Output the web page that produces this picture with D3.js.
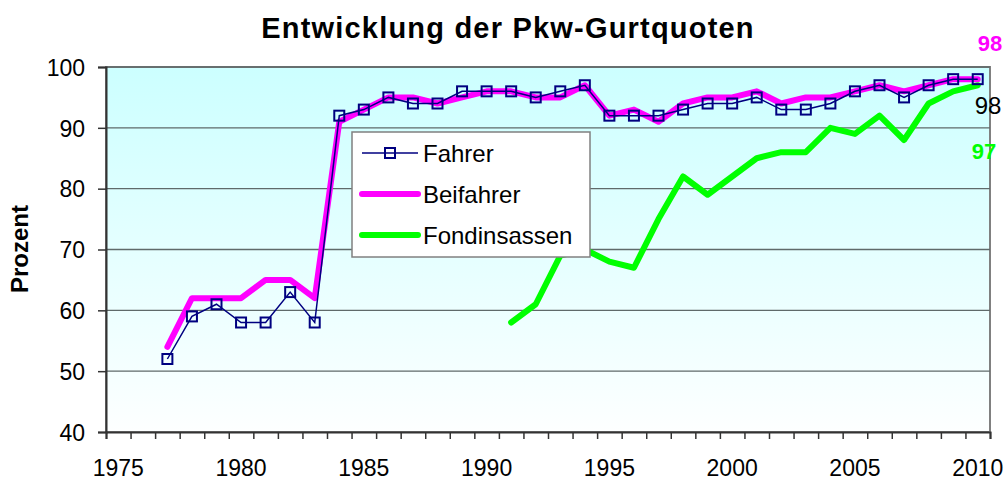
<!DOCTYPE html>
<html>
<head>
<meta charset="utf-8">
<script src="https://cdn.jsdelivr.net/npm/d3@7"></script>
<style>
  body { margin: 0; background: #fff; }
  text { font-family: "Liberation Sans", Arial, sans-serif; }
</style>
</head>
<body>
<svg id="chart" width="1008" height="480"></svg>
<script>
// data
var years = d3.range(1977, 2011);
var fahrer = [52, 59, 61, 58, 58, 63, 58, 92, 93, 95, 94, 94, 96, 96, 96, 95, 96, 97,
              92, 92, 92, 93, 94, 94, 95, 93, 93, 94, 96, 97, 95, 97, 98, 98];
var beifahrer = [54, 62, 62, 62, 65, 65, 62, 91, 93, 95, 95, 94, 95, 96, 96, 95, 95, 97,
                 92, 93, 91, 94, 95, 95, 96, 94, 95, 95, 96, 97, 96, 97, 98, 98];
var fondYears = d3.range(1991, 2011);
var fond = [58, 61, 69, 70, 68, 67, 75, 82, 79, 82, 85, 86, 86, 90, 89, 92, 88, 94, 96, 97];
var yTicks = [40, 50, 60, 70, 80, 90, 100];
var xLabels = [1975, 1980, 1985, 1990, 1995, 2000, 2005, 2010];

var svg = d3.select("#chart");
var margin = {left: 106, right: 990, top: 67, bottom: 432};

var x = d3.scaleLinear().domain([1974.5, 2010.5]).range([margin.left, margin.right]);
var y = d3.scaleLinear().domain([40, 100]).range([margin.bottom, margin.top]);

// plot background gradient
var grad = svg.append("defs").append("linearGradient")
    .attr("id", "bg").attr("x1", 0).attr("y1", 0).attr("x2", 0).attr("y2", 1);
grad.append("stop").attr("offset", "0%").attr("stop-color", "#ccffff");
grad.append("stop").attr("offset", "100%").attr("stop-color", "#fdffff");

svg.append("rect")
    .attr("x", margin.left).attr("y", margin.top)
    .attr("width", margin.right - margin.left).attr("height", margin.bottom - margin.top)
    .attr("fill", "url(#bg)")
    .attr("stroke", "#808080").attr("stroke-width", 2);

// gridlines
svg.append("g").selectAll("line")
    .data(yTicks.slice(1))
    .enter().append("line")
    .attr("x1", margin.left).attr("x2", margin.right)
    .attr("y1", function(d){return y(d)}).attr("y2", function(d){return y(d)})
    .attr("stroke", "#5f6a6a").attr("stroke-width", 1.3);

// y axis
var yAxis = svg.append("g")
    .attr("transform", "translate(" + margin.left + ",0)")
    .call(d3.axisLeft(y).tickValues(yTicks).tickSize(8).tickPadding(13));
yAxis.select(".domain").attr("stroke", "#333").attr("stroke-width", 2);
yAxis.selectAll(".tick line").attr("stroke", "#333").attr("stroke-width", 1.5);
yAxis.selectAll("text").attr("font-size", 23).attr("fill", "#000").attr("dy", "0.36em");

// x axis: ticks between categories
var bounds = d3.range(1974.5, 2011, 1);
var xAxis = svg.append("g")
    .attr("transform", "translate(0," + margin.bottom + ")")
    .call(d3.axisBottom(x).tickValues(bounds).tickSize(7).tickFormat(""));
xAxis.select(".domain").attr("stroke", "#333").attr("stroke-width", 2);
xAxis.selectAll(".tick line").attr("stroke", "#333").attr("stroke-width", 1.5);

svg.append("g").selectAll("text")
    .data(xLabels)
    .enter().append("text")
    .attr("x", function(d){return x(d)})
    .attr("y", 476)
    .attr("text-anchor", "middle")
    .attr("font-size", 23)
    .text(function(d){return d});

// lines
var line = d3.line()
    .x(function(d){return x(d[0])})
    .y(function(d){return y(d[1])});

svg.append("path")
    .datum(d3.zip(fondYears, fond))
    .attr("d", line)
    .attr("fill", "none").attr("stroke", "#00ff00").attr("stroke-width", 6)
    .attr("stroke-linejoin", "round").attr("stroke-linecap", "round");

svg.append("path")
    .datum(d3.zip(years, beifahrer))
    .attr("d", line)
    .attr("fill", "none").attr("stroke", "#ff00ff").attr("stroke-width", 6)
    .attr("stroke-linejoin", "round").attr("stroke-linecap", "round");

svg.append("path")
    .datum(d3.zip(years, fahrer))
    .attr("d", line)
    .attr("fill", "none").attr("stroke", "#000080").attr("stroke-width", 1.5);

svg.append("g").selectAll("rect")
    .data(d3.zip(years, fahrer))
    .enter().append("rect")
    .attr("x", function(d){return x(d[0]) - 5})
    .attr("y", function(d){return y(d[1]) - 5})
    .attr("width", 10).attr("height", 10)
    .attr("fill", "none").attr("stroke", "#000080").attr("stroke-width", 2);

// end labels
svg.append("text").attr("x", 990).attr("y", 51).attr("text-anchor", "middle")
    .attr("font-size", 22).attr("font-weight", "bold").attr("fill", "#ff00ff").text("98");
svg.append("text").attr("x", 988).attr("y", 114).attr("text-anchor", "middle")
    .attr("font-size", 24).attr("fill", "#000").text("98");
svg.append("text").attr("x", 984).attr("y", 159).attr("text-anchor", "middle")
    .attr("font-size", 22).attr("font-weight", "bold").attr("fill", "#00ff00").text("97");

// title and y label
svg.append("text").attr("x", 508).attr("y", 38).attr("text-anchor", "middle")
    .attr("font-size", 29).attr("font-weight", "bold").attr("letter-spacing", 1.2)
    .text("Entwicklung der Pkw-Gurtquoten");
svg.append("text").attr("transform", "translate(28,249) rotate(-90)")
    .attr("text-anchor", "middle")
    .attr("font-size", 24).attr("font-weight", "bold").text("Prozent");

// legend
var legend = svg.append("g").attr("transform", "translate(352,132)");
legend.append("rect").attr("width", 238).attr("height", 125)
    .attr("fill", "#fff").attr("stroke", "#808080").attr("stroke-width", 1.5);
var items = [
  {name: "Fahrer", color: "#000080", width: 1.5, marker: true},
  {name: "Beifahrer", color: "#ff00ff", width: 6},
  {name: "Fondinsassen", color: "#00ff00", width: 6}
];
var entry = legend.selectAll(".entry").data(items).enter().append("g")
    .attr("transform", function(d, i){return "translate(0," + (21 + i * 41) + ")"});
entry.append("line")
    .attr("x1", 10).attr("x2", 66)
    .attr("stroke", function(d){return d.color})
    .attr("stroke-width", function(d){return d.width})
    .attr("stroke-linecap", function(d){return d.marker ? "butt" : "round"});
entry.filter(function(d){return d.marker}).append("rect")
    .attr("x", 33).attr("y", -5).attr("width", 10).attr("height", 10)
    .attr("fill", "none").attr("stroke", "#000080").attr("stroke-width", 2);
entry.append("text")
    .attr("x", 71).attr("y", 9)
    .attr("font-size", 24).text(function(d){return d.name});
</script>
</body>
</html>
